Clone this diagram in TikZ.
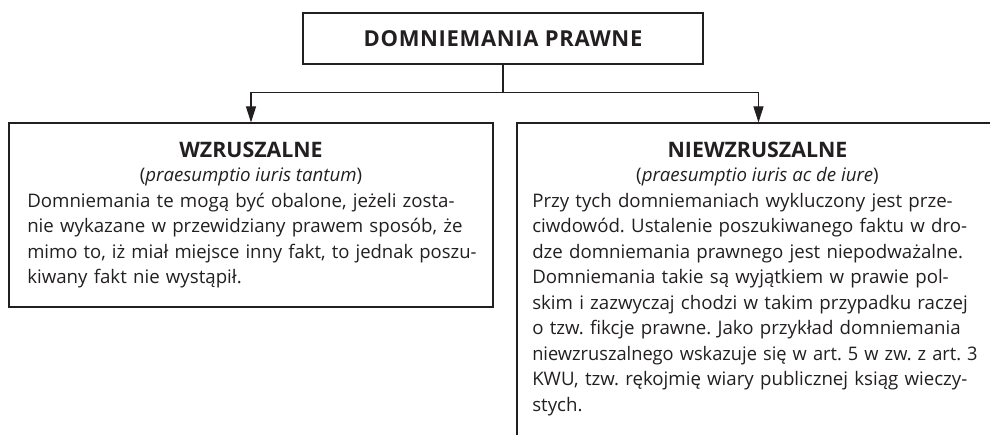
\documentclass[tikz,border=0pt]{standalone}
\usepackage{graphicx}
\usepackage{fontspec}
\setmainfont{Open Sans}
\newfontfamily\topfont[LetterSpace=3]{Open Sans}
\frenchspacing
\usetikzlibrary{arrows.meta}
\definecolor{ink}{RGB}{35,31,32}
\newsavebox\jlinebox
\newcommand{\jline}[2]{\sbox\jlinebox{#2}%
  \ifdim\wd\jlinebox>#1\relax\resizebox{#1}{\height}{\usebox\jlinebox}%
  \else\makebox[#1][s]{#2}\fi\\}
\tikzset{
  box/.style={draw=ink, line width=0.8pt, inner sep=0pt},
  conn/.style={draw=ink, line width=0.8pt},
  arr/.style={conn, -{Triangle[width=7.5pt,length=12pt]}},
  head/.style={inner sep=0pt, anchor=base, text=ink, font=\fontsize{16}{18}\selectfont\bfseries},
  latin/.style={inner sep=0pt, anchor=base, text=ink, font=\fontsize{14}{18}\selectfont},
  body/.style={inner sep=0pt, anchor=north west, text=ink, align=left, font=\fontsize{14}{19.125}\selectfont}
}
\begin{document}
\begin{tikzpicture}[x=0.75pt,y=-0.75pt]
\useasboundingbox (0,0) rectangle (990,435);
\clip (0,0) rectangle (990,435);
% boxes
\node[box, minimum width=300pt, minimum height=38.25pt] (top) at (503,38.5) {};
\node[inner sep=0pt, anchor=base, text=ink, font=\topfont\fontsize{16.5}{18}\selectfont\bfseries] (toptext) at (503,46.5) {DOMNIEMANIA PRAWNE};
\node[box, minimum width=363pt, minimum height=138pt] (left) at (251,215) {};
\node[box, minimum width=362.25pt, minimum height=241.5pt] (right) at (758.5,284) {};
% connectors
\coordinate (j) at (503,92.5);
\draw[conn] (top.south) -- (j);
\draw[arr] (j) -| (left.north);
\draw[arr] (j) -| (right.north);
% left texts
\node[head] (h1) at (251,157.5) {WZRUSZALNE};
\node[latin] (l1) at (251,181) {(\textit{praesumptio iuris tantum})};
\node[body, text width=337pt] (b1) at (27,189.2) {\strut
\jline{337pt}{Domniemania te mogą być obalone, jeżeli zosta-}
\jline{337pt}{nie wykazane w przewidziany prawem sposób, że}
\jline{337pt}{mimo to, iż miał miejsce inny fakt, to jednak poszu-}
kiwany fakt nie wystąpił.};
% right texts
\node[head] (h2) at (757.5,157.5) {NIEWZRUSZALNE};
\node[latin] (l2) at (757.5,181) {(\textit{praesumptio iuris ac de iure})};
\node[body, text width=334pt] (b2) at (532,189.2) {\strut
\jline{334pt}{Przy tych domniemaniach wykluczony jest prze-}
\jline{334pt}{ciwdowód. Ustalenie poszukiwanego faktu w dro-}
\jline{334pt}{dze domniemania prawnego jest niepodważalne.}
\jline{334pt}{Domniemania takie są wyjątkiem w prawie pol-}
\jline{334pt}{skim i zazwyczaj chodzi w takim przypadku raczej}
\jline{334pt}{o tzw. fikcje prawne. Jako przykład domniemania}
\jline{334pt}{niewzruszalnego wskazuje się w art. 5 w zw. z art. 3}
\jline{334pt}{KWU, tzw. rękojmię wiary publicznej ksiąg wieczy-}
stych.};
\end{tikzpicture}
\end{document}
